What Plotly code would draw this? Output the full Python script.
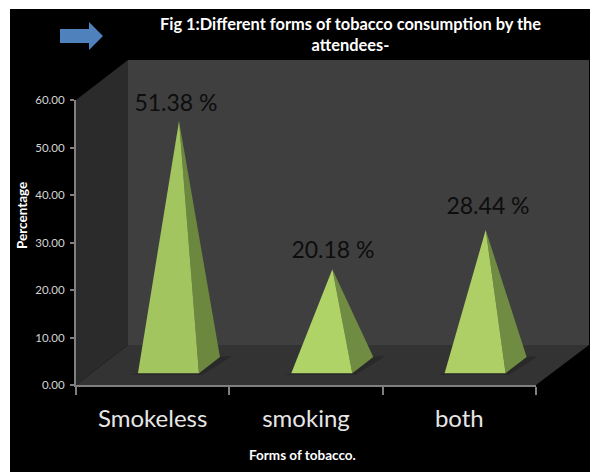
import plotly.graph_objects as go

# Chart content
categories = ["Smokeless", "smoking", "both"]
percentages = [51.38, 20.18, 28.44]
value_labels = ["51.38 %", "20.18 %", "28.44 %"]
y_ticks = [0, 10, 20, 30, 40, 50, 60]
title_text = "Fig 1:Different forms of tobacco consumption by the<br>attendees-"
x_title = "Forms of tobacco."
y_title = "Percentage"

# Figure and plot-area size in pixels
W, H = 590, 472
L, R, T, B = 76, 536, 100, 385

# Pyramid footprint, in category and percentage units relative to each slot
FRONT_LEFT, FRONT_RIGHT, BACK_RIGHT, APEX_X = 0.404, 0.802, 0.939, 0.672
FRONT_Y, BACK_Y, APEX_BASE = 2.5, 5.9, 4.2
LABEL_OFFSET_X = [0.652, 0.676, 0.687]
LABEL_OFFSET_Y = [7.6, 7.8, 8.8]
FRONT_COLORS = ["#a3c55f", "#b0d368", "#adcf66"]
SIDE_COLORS = ["#6c883f", "#6f8c42", "#6f8c42"]
AXIS_COLOR = "#7f7f7f"


def px(x):
    return (x - L) / (R - L)


def py(y):
    return (B - y) / (B - T)


def poly(points, color, layer="below"):
    path = "M" + " L".join(f"{px(x)},{py(y)}" for x, y in points) + " Z"
    return dict(type="path", xref="paper", yref="paper", path=path,
                fillcolor=color, line=dict(width=0), layer=layer)


shapes = [
    poly([(10, 9), (590, 9), (590, 472), (10, 472)], "#000000"),
    poly([(128, 60), (589, 60), (589, 345), (128, 345)], "#3f3f3f"),
    poly([(76, 100), (128, 60), (128, 345), (76, 385)], "#2b2b2b"),
    poly([(76, 385), (128, 345), (589, 345), (536, 385)], "#333333"),
    # Arrow beside the title
    poly([(60, 29), (89, 29), (89, 22), (103, 36), (89, 50), (89, 43), (60, 43)], "#4f81bd", "above"),
]

fig = go.Figure()

for i, (name, value) in enumerate(zip(categories, percentages)):
    fl, fr, br = i + FRONT_LEFT, i + FRONT_RIGHT, i + BACK_RIGHT
    apex = (i + APEX_X, APEX_BASE + value)
    # Floor shadow around the base
    fig.add_trace(go.Scatter(
        x=[fl - 0.05, fr + 0.02, br + 0.08, br - 0.05, fl],
        y=[FRONT_Y - 0.4, FRONT_Y - 0.4, BACK_Y + 0.2, BACK_Y, FRONT_Y],
        fill="toself", fillcolor="rgba(0,0,0,0.18)", mode="none", hoverinfo="skip", showlegend=False))
    # Side face
    fig.add_trace(go.Scatter(
        x=[fr, br, apex[0]], y=[FRONT_Y, BACK_Y, apex[1]],
        fill="toself", fillcolor=SIDE_COLORS[i], mode="none", hoverinfo="skip", showlegend=False))
    # Front face
    fig.add_trace(go.Scatter(
        x=[fl, fr, apex[0]], y=[FRONT_Y, FRONT_Y, apex[1]],
        fill="toself", fillcolor=FRONT_COLORS[i], mode="none", name=name, showlegend=False))

fig.add_trace(go.Scatter(
    x=[i + dx for i, dx in enumerate(LABEL_OFFSET_X)],
    y=[v + dy for v, dy in zip(percentages, LABEL_OFFSET_Y)],
    text=value_labels, mode="text", textposition="middle center", cliponaxis=False,
    textfont=dict(family="Lato", size=23, color="#0d0d0d"),
    hoverinfo="skip", showlegend=False))

fig.update_layout(
    width=W, height=H,
    margin=dict(l=L, r=W - R, t=T, b=H - B, autoexpand=False),
    paper_bgcolor="#ffffff", plot_bgcolor="rgba(0,0,0,0)",
    shapes=shapes, showlegend=False,
    font=dict(family="Lato"),
    annotations=[
        dict(text=f"<b>{title_text}</b>", xref="paper", yref="paper",
             x=px(350), y=py(34), showarrow=False, align="center", yanchor="middle",
             font=dict(family="Lato", size=16.4, color="#ffffff")),
        dict(text=f"<b>{y_title}</b>", xref="paper", yref="paper",
             x=px(22), y=py(216), showarrow=False, textangle=-90,
             xanchor="center", yanchor="middle",
             font=dict(family="Lato", size=13.5, color="#ffffff")),
        dict(text=f"<b>{x_title}</b>", xref="paper", yref="paper",
             x=px(302), y=py(455), showarrow=False,
             xanchor="center", yanchor="middle",
             font=dict(family="Lato", size=13.5, color="#ffffff")),
    ],
)
fig.update_xaxes(
    range=[0, 3], tickvals=[0.5, 1.5, 2.5], ticktext=categories,
    ticks="outside", ticklen=11, tickcolor="#000000",
    tickfont=dict(family="Lato", size=24, color="#e6e6e6"),
    showgrid=False, zeroline=False, showline=True, linecolor=AXIS_COLOR, linewidth=2,
    minor=dict(tickvals=[0, 1, 2, 3], ticks="outside", ticklen=8, tickcolor=AXIS_COLOR, tickwidth=2, showgrid=False),
)
fig.update_yaxes(
    range=[0, 60], tickvals=y_ticks, tickformat=".2f",
    ticks="outside", ticklen=4, tickcolor=AXIS_COLOR, tickwidth=2, ticklabelstandoff=3,
    tickfont=dict(family="Lato", size=11.5, color="#d4d4d4"),
    showgrid=False, zeroline=False, showline=True, linecolor=AXIS_COLOR, linewidth=2,
)

fig.write_html("out.html")
